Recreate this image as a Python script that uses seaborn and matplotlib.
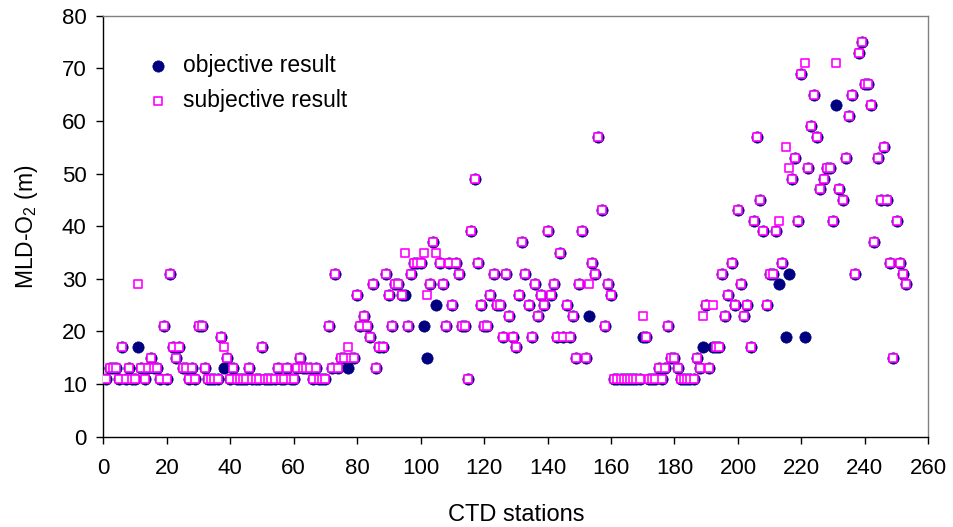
import numpy as np
import pandas as pd
import matplotlib
matplotlib.use("Agg")
import matplotlib.pyplot as plt
import seaborn as sns

# MLD-O2 (m) per CTD station, objective method
objective = [
    11, 13, 13, 13, 11, 17, 11, 13, 11, 11,
    17, 13, 11, 13, 15, 13, 13, 11, 21, 11,
    31, 17, 15, 17, 13, 13, 11, 13, 11, 21,
    21, 13, 11, 11, 11, 11, 19, 13, 15, 11,
    13, 11, 11, 11, 11, 13, 11, 11, 11, 17,
    11, 11, 11, 11, 13, 11, 11, 13, 11, 11,
    13, 15, 13, 13, 13, 11, 13, 11, 11, 11,
    21, 13, 31, 13, 15, 15, 13, 15, 15, 27,
    21, 23, 21, 19, 29, 13, 17, 17, 31, 27,
    21, 29, 29, 27, 27, 21, 31, 33, 33, 33,
    21, 15, 29, 37, 25, 33, 29, 21, 33, 25,
    33, 31, 21, 21, 11, 39, 49, 33, 25, 21,
    21, 27, 31, 25, 25, 19, 31, 23, 19, 17,
    27, 37, 31, 25, 19, 29, 23, 27, 25, 39,
    27, 29, 19, 35, 19, 25, 19, 23, 15, 29,
    39, 15, 23, 33, 31, 57, 43, 21, 29, 27,
    11, 11, 11, 11, 11, 11, 11, 11, 11, 19,
    19, 11, 11, 11, 13, 11, 13, 21, 15, 15,
    13, 11, 11, 11, 11, 11, 15, 13, 17, 25,
    13, 17, 17, 17, 31, 23, 27, 33, 25, 43,
    29, 23, 25, 17, 41, 57, 45, 39, 25, 31,
    31, 39, 29, 33, 19, 31, 49, 53, 41, 69,
    19, 51, 59, 65, 57, 47, 49, 51, 51, 41,
    63, 47, 45, 53, 61, 65, 31, 73, 75, 67,
    67, 63, 37, 53, 45, 55, 45, 33, 15, 41,
    33, 31, 29,
]

# subjective method (differs from objective at a few stations)
subjective = [
    11, 13, 13, 13, 11, 17, 11, 13, 11, 11,
    29, 13, 11, 13, 15, 13, 13, 11, 21, 11,
    31, 17, 15, 17, 13, 13, 11, 13, 11, 21,
    21, 13, 11, 11, 11, 11, 19, 17, 15, 11,
    13, 11, 11, 11, 11, 13, 11, 11, 11, 17,
    11, 11, 11, 11, 13, 11, 11, 13, 11, 11,
    13, 15, 13, 13, 13, 11, 13, 11, 11, 11,
    21, 13, 31, 13, 15, 15, 17, 15, 15, 27,
    21, 23, 21, 19, 29, 13, 17, 17, 31, 27,
    21, 29, 29, 27, 35, 21, 31, 33, 33, 33,
    35, 27, 29, 37, 35, 33, 29, 21, 33, 25,
    33, 31, 21, 21, 11, 39, 49, 33, 25, 21,
    21, 27, 31, 25, 25, 19, 31, 23, 19, 17,
    27, 37, 31, 25, 19, 29, 23, 27, 25, 39,
    27, 29, 19, 35, 19, 25, 19, 23, 15, 29,
    39, 15, 29, 33, 31, 57, 43, 21, 29, 27,
    11, 11, 11, 11, 11, 11, 11, 11, 11, 23,
    19, 11, 11, 11, 13, 11, 13, 21, 15, 15,
    13, 11, 11, 11, 11, 11, 15, 13, 23, 25,
    13, 25, 17, 17, 31, 23, 27, 33, 25, 43,
    29, 23, 25, 17, 41, 57, 45, 39, 25, 31,
    31, 39, 41, 33, 55, 51, 49, 53, 41, 69,
    71, 51, 59, 65, 57, 47, 49, 51, 51, 41,
    71, 47, 45, 53, 61, 65, 31, 73, 75, 67,
    67, 63, 37, 53, 45, 55, 45, 33, 15, 41,
    33, 31, 29,
]

stations = np.arange(1, len(objective) + 1)
df = pd.DataFrame({"station": stations, "objective": objective, "subjective": subjective})

sns.set_theme(style="ticks")
plt.rcParams["font.family"] = ["Liberation Sans", "DejaVu Sans"]
plt.rcParams["mathtext.default"] = "regular"
plt.rcParams["text.color"] = "black"
plt.rcParams["axes.labelcolor"] = "black"
plt.rcParams["xtick.color"] = "black"
plt.rcParams["ytick.color"] = "black"

fig, ax = plt.subplots(figsize=(9.54, 5.27), dpi=100)
fig.subplots_adjust(left=0.1083, right=0.9731, top=0.9702, bottom=0.1713)

sns.scatterplot(data=df, x="station", y="objective", ax=ax, marker="o", s=66,
                color="#000080", edgecolor="#000080", linewidth=0.5,
                label="objective result", zorder=2)
sns.scatterplot(data=df, x="station", y="subjective", ax=ax, marker="s", s=30,
                facecolor="white", edgecolor="#FF00FF", linewidth=1.2,
                label="subjective result", zorder=3)

ax.set_xlim(0, 260)
ax.set_ylim(0, 80)
ax.set_xticks(range(0, 261, 20))
ax.set_yticks(range(0, 81, 10))
ax.tick_params(axis="x", labelsize=16, length=5, width=1, pad=10)
ax.tick_params(axis="y", labelsize=16, length=5, width=1, pad=7)
ax.set_xlabel("CTD stations", fontsize=17, labelpad=18)
ax.set_ylabel("MLD-O$_2$ (m)", fontsize=16.5, labelpad=16)

for side in ["left", "bottom"]:
    ax.spines[side].set_color("black")
    ax.spines[side].set_linewidth(1.0)
for side in ["top", "right"]:
    ax.spines[side].set_visible(True)
    ax.spines[side].set_color("#808080")
    ax.spines[side].set_linewidth(1.0)

ax.legend(loc="upper left", bbox_to_anchor=(0.027, 0.93), frameon=False,
          fontsize=16.5, handletextpad=0.1, labelspacing=0.5, borderaxespad=0)

fig.savefig("out.png", dpi=100)
